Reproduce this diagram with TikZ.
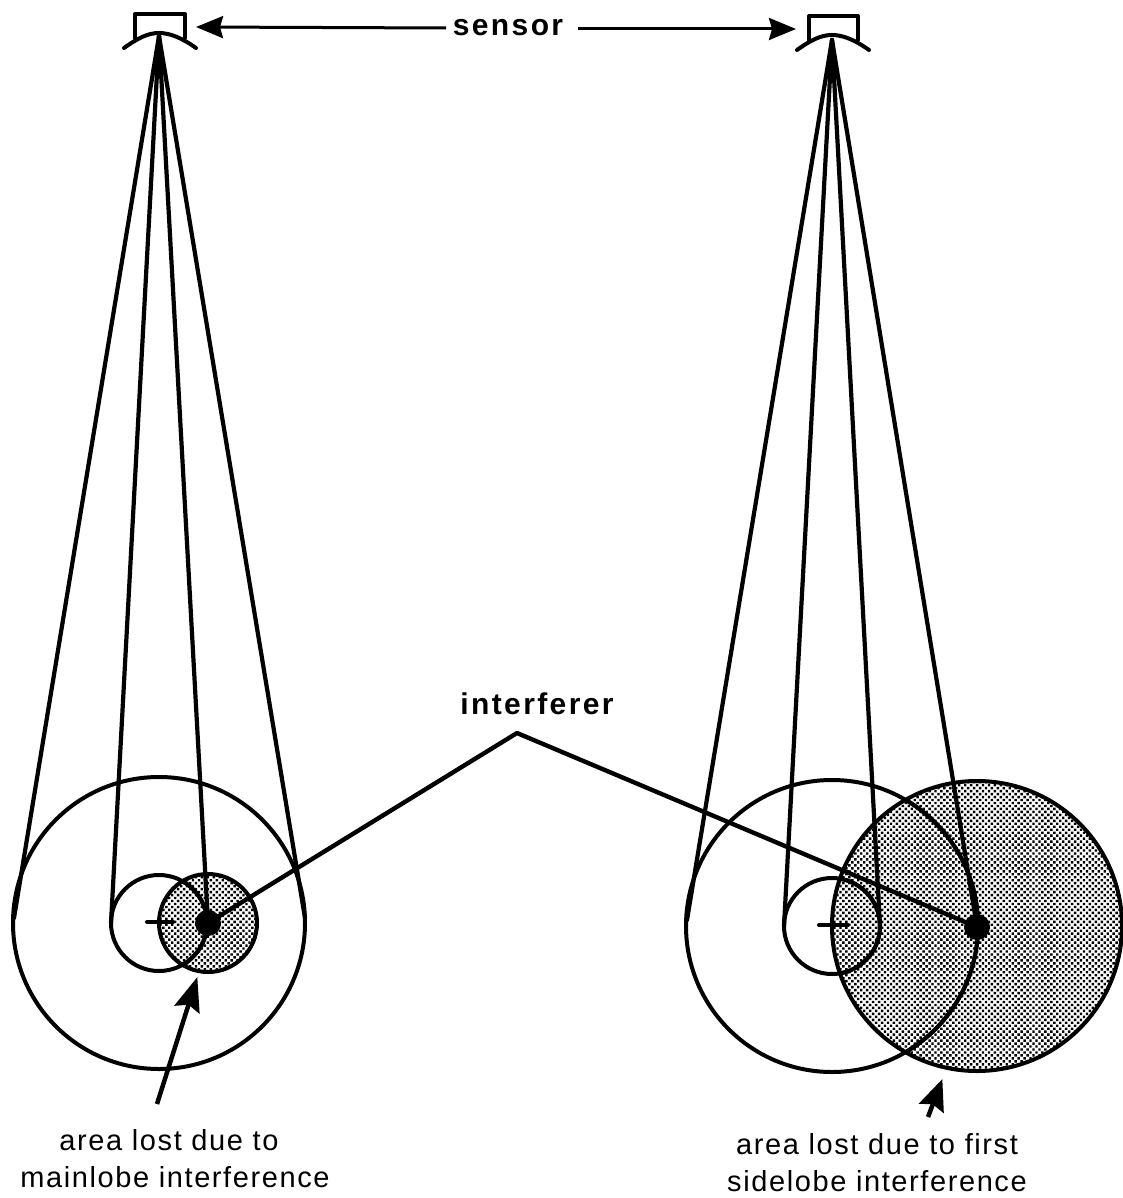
\documentclass[tikz,border=0pt]{standalone}
\usepackage{fontspec}
\setmainfont{Liberation Sans}
\usetikzlibrary{arrows.meta,patterns.meta}
\newfontfamily\labfont[LetterSpace=5.5]{Liberation Sans}
\newfontfamily\blabfont[LetterSpace=8]{Liberation Sans Bold}
\tikzset{
  x=1pt,y=-1pt,
  ln/.style={draw=black,line width=4pt,line cap=round,line join=round},
  beam/.style={draw=black,line width=4.2pt,line cap=round},
  zone/.style={ln,pattern={Dots[distance=4.2pt,radius=1.7pt,angle=45]},pattern color=black},
  dotnode/.style={circle,fill=black,inner sep=0pt,minimum size=26pt},
  lab/.style={font=\fontsize{29}{29}\selectfont\labfont,inner sep=0pt,align=center},
  blab/.style={font=\fontsize{30}{30}\selectfont\blabfont,inner sep=0pt},
  pointer/.style={draw=black,line width=4.5pt,-{Stealth[length=34pt,width=26pt,inset=5pt]},shorten >=-1pt},
  sarrow/.style={draw=black,line width=3pt,-{Stealth[length=27pt,width=22pt,inset=3pt]}}
}
\begin{document}
\begin{tikzpicture}
\useasboundingbox (0,0) rectangle (1123,1198);
\coordinate (apexL) at (159,36);
\coordinate (apexR) at (832,40);
\coordinate (L1) at (14,918);
\coordinate (L2) at (111,923);
\coordinate (L4) at (305,918);
\coordinate (R1) at (687,920);
\coordinate (R2) at (784,926);
\coordinate (R3) at (880,926);
\draw[ln] (159,923) circle[radius=146];
\draw[ln] (159,923) circle[radius=48];
\draw[zone] (208,923) circle[radius=49];
\begin{scope}
\clip (208,923) circle[radius=49];
\draw[ln] (159,923) circle[radius=48];
\end{scope}
\draw[ln] (147,922) -- (173,922);
\draw[ln] (832,926) circle[radius=146];
\draw[ln] (832,926) circle[radius=48];
\draw[zone] (977,926) circle[radius=145];
\begin{scope}
\clip (977,926) circle[radius=145];
\draw[ln] (832,926) circle[radius=146];
\draw[ln] (832,926) circle[radius=48];
\end{scope}
\draw[ln] (819,925) -- (848,925);
\node[dotnode] (dotL) at (208,923) {};
\node[dotnode] (dotR) at (977,927) {};
\draw[beam] (apexL) -- (L1);
\draw[beam] (apexL) -- (L2);
\draw[beam] (apexL) -- (dotL.center);
\draw[beam] (apexL) -- (L4);
\draw[beam] (apexR) -- (R1);
\draw[beam] (apexR) -- (R2);
\draw[beam] (apexR) -- (R3);
\draw[beam] (apexR) -- (dotR.center);
\draw[ln] (135,38) -- (135,14) -- (185,14) -- (185,38);
\draw[ln] (124,48) .. controls (138,38) and (148,33) .. (159,33) .. controls (170,33) and (182,38) .. (196,48);
\draw[ln] (809,40) -- (809,16) -- (858,16) -- (858,40);
\draw[ln] (797,50) .. controls (811,40) and (821,35) .. (832,35) .. controls (843,35) and (855,40) .. (869,50);
\node[blab] (sensor) at (508,28) {sensor};
\node[blab] (interferer) at (537,704) {interferer};
\coordinate (elbow) at (517,733);
\coordinate (tipL) at (196,27);
\coordinate (tipR) at (796,29);
\draw[sarrow] (446,28) -- (tipL);
\draw[sarrow] (578,29) -- (tipR);
\draw[ln,line width=4.4pt] (dotL.center) -- (elbow) -- (dotR.center);
\node[lab] (capL) at (175,1159) {\hspace*{-12pt}area lost due to\\[8pt]mainlobe interference};
\node[lab] (capR) at (877,1163) {area lost due to first\\[8pt]sidelobe interference};
\coordinate (fromL) at (157,1104);
\coordinate (toL) at (197,978);
\coordinate (fromR) at (928,1117);
\coordinate (toR) at (942,1080);
\draw[pointer] (fromL) -- (toL);
\draw[pointer,-{Stealth[length=31pt,width=26pt,inset=4pt]}] (fromR) -- (toR);
\end{tikzpicture}
\end{document}
